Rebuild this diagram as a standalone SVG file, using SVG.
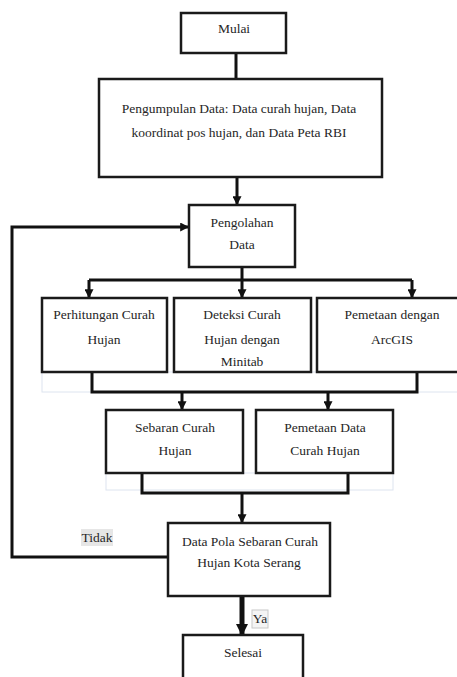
<svg xmlns="http://www.w3.org/2000/svg" width="457" height="677" viewBox="0 0 457 677">
<style>
.box{fill:#fff;stroke:#1a1a1a;stroke-width:2.5}
.ln{fill:none;stroke:#111;stroke-width:3}
.faint{fill:none;stroke:#dde4ef;stroke-width:1}
text{font-family:"Liberation Serif","DejaVu Serif",serif;font-size:13.5px;fill:#262626;text-anchor:middle}
</style>
<defs>
<marker id="ah" markerWidth="3" markerHeight="3" refX="2.6" refY="1.5" orient="auto" markerUnits="strokeWidth">
<path d="M0,0 L3,1.5 L0,3 Z" fill="#111"/>
</marker>
<marker id="ah2" markerWidth="2.4" markerHeight="2.4" refX="2" refY="1.2" orient="auto" markerUnits="strokeWidth">
<path d="M0,0 L2.4,1.2 L0,2.4 Z" fill="#111"/>
</marker>
</defs>
<rect class="faint" x="42" y="372" width="420" height="20"/>
<rect class="faint" x="106" y="473" width="287" height="17"/>
<g id="connectors">
<path class="ln" d="M236,53 V79"/>
<path class="ln" d="M237,177 V204" marker-end="url(#ah)"/>
<path class="ln" d="M242,267 V280 M89,280 H412"/>
<path class="ln" d="M89,280 V297" marker-end="url(#ah)"/>
<path class="ln" d="M242,280 V297" marker-end="url(#ah)"/>
<path class="ln" d="M412,280 V297" marker-end="url(#ah)"/>
<path class="ln" d="M92,372 V392 H417 V372"/>
<path class="ln" d="M182,392 V409" marker-end="url(#ah)"/>
<path class="ln" d="M328,392 V409" marker-end="url(#ah)"/>
<path class="ln" d="M142,473 V493 H348 V473"/>
<path class="ln" d="M242,493 V522" marker-end="url(#ah)"/>
<path class="ln" d="M168,557 H12 V227 H188" marker-end="url(#ah)"/>
<path fill="none" stroke="#111" stroke-width="5" d="M242,596 V634" marker-end="url(#ah2)"/>
<g id="label-tidak">
<rect x="81" y="529" width="32" height="17" fill="#e6e6e6"/>
<text x="97" y="542">Tidak</text>
</g>
<g id="label-ya">
<rect x="252" y="610" width="16" height="18" fill="#f4f4f4" stroke="#c8c8c8" stroke-width="1"/>
<text x="260" y="623">Ya</text>
</g>
</g>
<g id="mulai">
<rect class="box" x="181" y="13" width="105" height="40"/>
<text x="234" y="33">Mulai</text>
</g>
<g id="pengumpulan">
<rect class="box" x="99" y="79" width="283" height="98"/>
<text x="239" y="113">Pengumpulan Data: Data curah hujan, Data</text>
<text x="239" y="137">koordinat pos hujan, dan Data Peta RBI</text>
</g>
<g id="pengolahan">
<rect class="box" x="189" y="205" width="106" height="62"/>
<text x="242" y="227">Pengolahan</text>
<text x="242" y="249">Data</text>
</g>
<g id="perhitungan">
<rect class="box" x="42" y="298" width="125" height="74"/>
<text x="104" y="319">Perhitungan Curah</text>
<text x="104" y="344">Hujan</text>
</g>
<g id="deteksi">
<rect class="box" x="174" y="298" width="137" height="74"/>
<text x="242" y="319">Deteksi Curah</text>
<text x="242" y="344">Hujan dengan</text>
<text x="242" y="366">Minitab</text>
</g>
<g id="pemetaan-arcgis">
<rect class="box" x="317" y="298" width="150" height="74"/>
<text x="392" y="319">Pemetaan dengan</text>
<text x="392" y="344">ArcGIS</text>
</g>
<g id="sebaran">
<rect class="box" x="106" y="410" width="137" height="63"/>
<text x="175" y="432">Sebaran Curah</text>
<text x="175" y="455">Hujan</text>
</g>
<g id="pemetaan-data">
<rect class="box" x="256" y="410" width="137" height="63"/>
<text x="325" y="432">Pemetaan Data</text>
<text x="325" y="455">Curah Hujan</text>
</g>
<g id="data-pola">
<rect class="box" x="168" y="523" width="162" height="73"/>
<text x="250" y="546">Data Pola Sebaran Curah</text>
<text x="249" y="567">Hujan Kota Serang</text>
</g>
<g id="selesai">
<rect class="box" x="183" y="635" width="120" height="50"/>
<text x="243" y="657">Selesai</text>
</g>
</svg>
